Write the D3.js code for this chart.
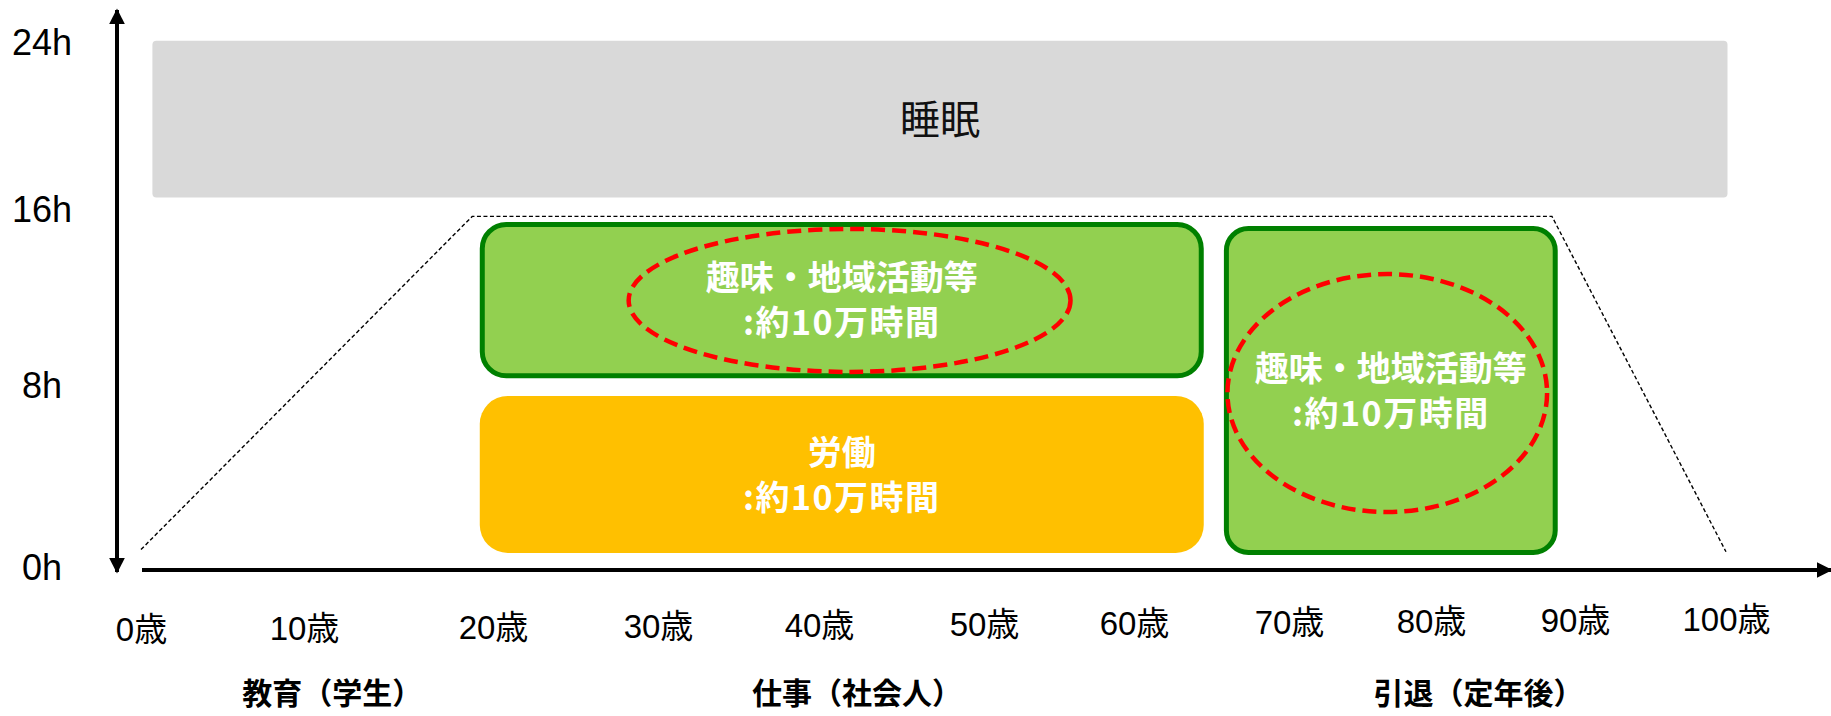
<!DOCTYPE html>
<html>
<head>
<meta charset="utf-8">
<script src="https://cdn.jsdelivr.net/npm/d3@7"></script>
<style>
  body { margin: 0; background: #fff; }
</style>
</head>
<body>
<div id="chart"></div>
<script>
// axis ticks
var ageTicks = [0, 10, 20, 30, 40, 50, 60, 70, 80, 90, 100];
var hourTicks = [0, 8, 16, 24];

// time blocks (age range x hour range)
var blockNames = ["睡眠", "趣味・地域活動等", "労働", "趣味・地域活動等"];
var blockNotes = ["", ":約10万時間", ":約10万時間", ":約10万時間"];
var blockAgeFrom = [0.7, 19.3, 19.3, 65.8];
var blockAgeTo = [100.1, 64.5, 64.5, 88.8];
var blockHourFrom = [16.7, 8.44, 0.75, 0.66];
var blockHourTo = [24.2, 15.55, 7.65, 15.36];

// red dashed highlights
var circleAgeFrom = [28.1, 65.9];
var circleAgeTo = [55.9, 88.2];
var circleHourFrom = [8.64, 2.46];
var circleHourTo = [15.32, 13.27];

// dashed envelope of waking hours
var envelopeAges = [0, 18.9, 88.4, 100];
var envelopeHours = [0.9, 15.8, 15.8, 0.8];

// life phases under the axis
var phases = ["教育（学生）", "仕事（社会人）", "引退（定年後）"];
var phaseAges = [11.5, 42.3, 83.3];

function base() {
    var w = 1831;
    var h = 716;

    // the sketch is hand drawn, so the scales are piecewise
    var x = d3.scaleLinear()
        .domain(ageTicks)
        .range([141, 304, 493, 658, 819, 984, 1134, 1289, 1431, 1575, 1726]);
    var y = d3.scaleLinear()
        .domain(hourTicks)
        .range([570, 388, 212, 45]);

    var svg = d3.select("#chart")
        .append("svg")
        .attr("width", w)
        .attr("height", h);

    var defs = svg.append("defs");
    defs.append("marker")
        .attr("id", "head")
        .attr("viewBox", "0 0 10 10")
        .attr("refX", 9).attr("refY", 5)
        .attr("markerWidth", 4).attr("markerHeight", 4)
        .attr("markerUnits", "strokeWidth")
        .attr("orient", "auto-start-reverse")
        .append("path")
        .attr("d", "M0,0 L10,5 L0,10 Z")
        .attr("fill", "#000");

    var fills = ["#d9d9d9", "#92d050", "#ffc000", "#92d050"];
    var strokes = [null, "#008000", null, "#008000"];
    var radius = [4, 24, 28, 22];
    var textColor = ["#111", "#fff", "#fff", "#fff"];

    var blocks = blockNames.map(function(n, i) {
        return { name: n, note: blockNotes[i], a0: blockAgeFrom[i], a1: blockAgeTo[i], h0: blockHourFrom[i], h1: blockHourTo[i], i: i };
    });

    // dashed envelope
    var pts = envelopeAges.map(function(a, i) { return [a, envelopeHours[i]]; });
    svg.append("path")
        .attr("d", d3.line().x(function(d) { return x(d[0]); }).y(function(d) { return y(d[1]); })(pts))
        .attr("fill", "none")
        .attr("stroke", "#000")
        .attr("stroke-width", 1.4)
        .attr("stroke-dasharray", "4,2.5");

    // blocks
    svg.selectAll("rect.block")
        .data(blocks)
        .enter()
        .append("rect")
        .attr("class", "block")
        .attr("x", function(d) { var s = strokes[d.i] ? 2.5 : 0; return x(d.a0) + s; })
        .attr("y", function(d) { var s = strokes[d.i] ? 2.5 : 0; return y(d.h1) + s; })
        .attr("width", function(d) { var s = strokes[d.i] ? 5 : 0; return x(d.a1) - x(d.a0) - s; })
        .attr("height", function(d) { var s = strokes[d.i] ? 5 : 0; return y(d.h0) - y(d.h1) - s; })
        .attr("rx", function(d) { return radius[d.i]; })
        .attr("fill", function(d) { return fills[d.i]; })
        .attr("stroke", function(d) { return strokes[d.i] || "none"; })
        .attr("stroke-width", 5);

    // red dashed ellipses
    var circles = circleAgeFrom.map(function(a, i) {
        return { a0: a, a1: circleAgeTo[i], h0: circleHourFrom[i], h1: circleHourTo[i] };
    });
    svg.selectAll("ellipse.mark")
        .data(circles)
        .enter()
        .append("ellipse")
        .attr("class", "mark")
        .attr("cx", function(d) { return (x(d.a0) + x(d.a1)) / 2; })
        .attr("cy", function(d) { return (y(d.h0) + y(d.h1)) / 2; })
        .attr("rx", function(d) { return (x(d.a1) - x(d.a0)) / 2 - 2; })
        .attr("ry", function(d) { return (y(d.h0) - y(d.h1)) / 2 - 2; })
        .attr("fill", "none")
        .attr("stroke", "#ff0000")
        .attr("stroke-width", 4.5)
        .attr("stroke-dasharray", "14,7");

    // block labels
    var labels = svg.selectAll("text.block")
        .data(blocks)
        .enter()
        .append("text")
        .attr("class", "block")
        .attr("text-anchor", "middle")
        .attr("font-family", "'Noto Sans CJK JP', sans-serif")
        .attr("font-weight", function(d) { return d.i === 0 ? "normal" : "bold"; })
        .attr("font-size", function(d) { return d.i === 0 ? "40px" : "34px"; })
        .attr("fill", function(d) { return textColor[d.i]; })
        .attr("transform", function(d) {
            return "translate(" + (x(d.a0) + x(d.a1)) / 2 + "," + (y(d.h0) + y(d.h1)) / 2 + ")";
        });
    labels.append("tspan")
        .attr("x", 0)
        .attr("y", function(d) { return d.note ? -22 : 0; })
        .attr("dy", "0.36em")
        .text(function(d) { return d.name; });
    labels.filter(function(d) { return d.note; })
        .append("tspan")
        .attr("x", 0)
        .attr("y", 23)
        .attr("dy", "0.36em")
        .attr("letter-spacing", "1.5px")
        .text(function(d) { return d.note; });

    // y axis: double arrow
    svg.append("line")
        .attr("x1", 117).attr("x2", 117)
        .attr("y1", y(0) + 2).attr("y2", 10)
        .attr("stroke", "#000")
        .attr("stroke-width", 4)
        .attr("marker-start", "url(#head)")
        .attr("marker-end", "url(#head)");

    // x axis arrow
    svg.append("line")
        .attr("x1", x(0) + 1).attr("x2", w)
        .attr("y1", y(0)).attr("y2", y(0))
        .attr("stroke", "#000")
        .attr("stroke-width", 4)
        .attr("marker-end", "url(#head)");

    // hour labels
    svg.selectAll("text.hour")
        .data(hourTicks)
        .enter()
        .append("text")
        .attr("class", "hour")
        .attr("x", 42)
        .attr("y", function(d) { return y(d) - 3; })
        .attr("dy", "0.36em")
        .attr("text-anchor", "middle")
        .attr("font-family", "'Liberation Sans', Arial, sans-serif")
        .attr("font-size", "36px")
        .attr("fill", "#000")
        .text(function(d) { return d + "h"; });

    // age labels via axis
    var xAxis = d3.axisBottom(x)
        .tickValues(ageTicks)
        .tickSize(0)
        .tickFormat(function(d) { return d + "歳"; });
    var gx = svg.append("g")
        .attr("transform", "translate(0," + y(0) + ")")
        .call(xAxis);
    gx.select(".domain").remove();
    gx.selectAll("text")
        .attr("y", function(d) { return 59 - d * 0.1; })
        .attr("dy", "0.36em")
        .attr("font-family", "'Liberation Sans', 'Noto Sans CJK JP', sans-serif")
        .attr("font-size", "33px")
        .attr("fill", "#000");

    // phase labels
    svg.selectAll("text.phase")
        .data(phases)
        .enter()
        .append("text")
        .attr("class", "phase")
        .attr("x", function(d, i) { return x(phaseAges[i]); })
        .attr("y", 693)
        .attr("dy", "0.36em")
        .attr("text-anchor", "middle")
        .attr("font-family", "'Noto Sans CJK JP', sans-serif")
        .attr("font-weight", "bold")
        .attr("font-size", "30px")
        .attr("fill", "#000")
        .text(function(d) { return d; });
}

window.onload = base;
</script>
</body>
</html>
